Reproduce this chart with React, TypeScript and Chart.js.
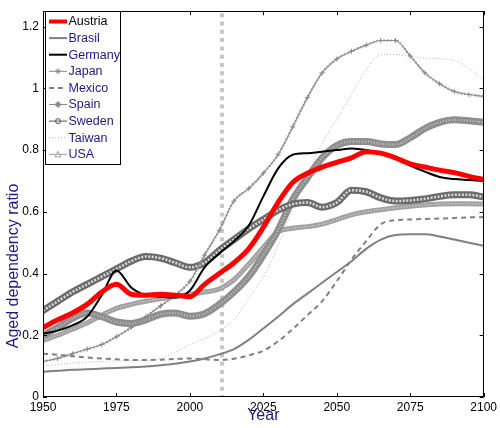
import { useEffect, useRef } from "react";
import { Chart, registerables } from "chart.js";

Chart.register(...registerables);

const years = [1950, 1955, 1960, 1965, 1970, 1975, 1980, 1985, 1990, 1995, 2000, 2005, 2010, 2015, 2020, 2025, 2030, 2035, 2040, 2045, 2050, 2055, 2060, 2065, 2070, 2075, 2080, 2085, 2090, 2095, 2100];

const austria = [0.225, 0.25, 0.272, 0.3, 0.34, 0.365, 0.333, 0.33, 0.333, 0.33, 0.325, 0.365, 0.4, 0.435, 0.48, 0.55, 0.63, 0.695, 0.725, 0.745, 0.76, 0.775, 0.795, 0.79, 0.775, 0.755, 0.745, 0.735, 0.727, 0.715, 0.705];
const brasil = [0.082, 0.085, 0.088, 0.09, 0.092, 0.094, 0.096, 0.099, 0.103, 0.108, 0.115, 0.125, 0.138, 0.155, 0.185, 0.222, 0.26, 0.3, 0.335, 0.37, 0.405, 0.44, 0.48, 0.51, 0.525, 0.527, 0.527, 0.52, 0.51, 0.5, 0.49];
const germany = [0.205, 0.215, 0.232, 0.26, 0.33, 0.41, 0.355, 0.33, 0.325, 0.322, 0.345, 0.42, 0.465, 0.505, 0.555, 0.65, 0.74, 0.785, 0.79, 0.795, 0.8, 0.805, 0.8, 0.788, 0.772, 0.75, 0.73, 0.713, 0.706, 0.703, 0.7];
const japan = [0.115, 0.125, 0.14, 0.155, 0.17, 0.195, 0.225, 0.26, 0.295, 0.33, 0.375, 0.46, 0.54, 0.635, 0.675, 0.725, 0.785, 0.875, 0.97, 1.05, 1.095, 1.12, 1.14, 1.155, 1.155, 1.105, 1.05, 1.015, 0.99, 0.98, 0.974];
const mexico = [0.14, 0.137, 0.132, 0.128, 0.125, 0.122, 0.12, 0.12, 0.121, 0.123, 0.125, 0.122, 0.12, 0.124, 0.135, 0.15, 0.18, 0.22, 0.265, 0.31, 0.375, 0.445, 0.505, 0.56, 0.573, 0.575, 0.577, 0.578, 0.58, 0.582, 0.583];
const spain = [0.2, 0.225, 0.255, 0.272, 0.26, 0.243, 0.238, 0.25, 0.268, 0.272, 0.262, 0.27, 0.3, 0.34, 0.39, 0.46, 0.54, 0.64, 0.71, 0.775, 0.815, 0.828, 0.828, 0.82, 0.818, 0.84, 0.87, 0.89, 0.898, 0.895, 0.89];
const sweden = [0.28, 0.31, 0.34, 0.365, 0.39, 0.415, 0.44, 0.455, 0.45, 0.435, 0.42, 0.435, 0.475, 0.51, 0.545, 0.575, 0.605, 0.625, 0.63, 0.615, 0.63, 0.67, 0.665, 0.645, 0.635, 0.637, 0.642, 0.65, 0.655, 0.655, 0.648];
const taiwan = [0.1, 0.105, 0.11, 0.113, 0.115, 0.117, 0.118, 0.118, 0.125, 0.145, 0.17, 0.19, 0.215, 0.25, 0.32, 0.39, 0.49, 0.61, 0.72, 0.82, 0.9, 0.98, 1.06, 1.11, 1.11, 1.103, 1.098, 1.096, 1.09, 1.065, 1.027];
const usa = [0.183, 0.2, 0.22, 0.24, 0.265, 0.287, 0.3, 0.31, 0.318, 0.326, 0.333, 0.34, 0.35, 0.38, 0.43, 0.485, 0.535, 0.547, 0.552, 0.56, 0.575, 0.59, 0.6, 0.607, 0.613, 0.618, 0.622, 0.625, 0.626, 0.626, 0.625];

const countries = ["Austria", "Brasil", "Germany", "Japan", "Mexico", "Spain", "Sweden", "Taiwan", "USA"];
const xTicks = [1950, 1975, 2000, 2025, 2050, 2075, 2100];
const yTicks = [0, 0.2, 0.4, 0.6, 0.8, 1, 1.2];
const currentYear = 2011;
const xTitle = "Year";
const yTitle = "Aged dependency ratio";

const FONT = "'Liberation Sans', Arial, Helvetica, sans-serif";
const NAVY = "#1b1b7e";

type Sty = { color: string; width: number; dash?: number[]; marker?: string; textColor: string };
const styles: Record<string, Sty> = {
  Austria: { color: "#ff0000", width: 5, textColor: "#000" },
  Brasil: { color: "#808080", width: 2, textColor: NAVY },
  Germany: { color: "#000000", width: 2, textColor: NAVY },
  Japan: { color: "#8a8a8a", width: 1.2, marker: "cross", textColor: NAVY },
  Mexico: { color: "#808080", width: 2, dash: [5, 4], textColor: NAVY },
  Spain: { color: "#8c8c8c", width: 1.2, marker: "diamond", textColor: NAVY },
  Sweden: { color: "#555555", width: 1.2, marker: "circle", textColor: NAVY },
  Taiwan: { color: "#b4b4b4", width: 1, dash: [1, 2], textColor: NAVY },
  USA: { color: "#a0a0a0", width: 1.2, marker: "triangle", textColor: NAVY },
};

function drawMarker(ctx: CanvasRenderingContext2D, kind: string, x: number, y: number, color: string) {
  ctx.save();
  ctx.strokeStyle = color;
  ctx.lineWidth = 1;
  ctx.setLineDash([]);
  ctx.beginPath();
  if (kind === "cross") {
    ctx.moveTo(x - 3, y); ctx.lineTo(x + 3, y);
    ctx.moveTo(x, y - 3); ctx.lineTo(x, y + 3);
    ctx.moveTo(x - 2, y - 2); ctx.lineTo(x + 2, y + 2);
    ctx.moveTo(x - 2, y + 2); ctx.lineTo(x + 2, y - 2);
  } else if (kind === "diamond") {
    ctx.moveTo(x, y - 3); ctx.lineTo(x + 3, y); ctx.lineTo(x, y + 3); ctx.lineTo(x - 3, y); ctx.closePath();
    ctx.fillStyle = color; ctx.fill();
  } else if (kind === "circle") {
    ctx.arc(x, y, 2.5, 0, Math.PI * 2);
  } else if (kind === "triangle") {
    ctx.moveTo(x, y - 3); ctx.lineTo(x + 3, y + 2.5); ctx.lineTo(x - 3, y + 2.5); ctx.closePath();
  }
  ctx.stroke();
  ctx.restore();
}

const decorPlugin = {
  id: "decor",
  beforeDatasetsDraw(chart: any) {
    const { ctx, chartArea: a, scales } = chart;
    const x = Math.round(scales.x.getPixelForValue(currentYear));
    ctx.save();
    ctx.strokeStyle = "#c8c8c8";
    ctx.lineWidth = 4;
    ctx.setLineDash([4, 4.3]);
    ctx.beginPath();
    ctx.moveTo(x, a.top + 2);
    ctx.lineTo(x, a.bottom);
    ctx.stroke();
    ctx.restore();
  },
  afterDraw(chart: any) {
    const { ctx, chartArea: a, scales } = chart;
    ctx.save();
    ctx.strokeStyle = "#000";
    ctx.lineWidth = 1;
    ctx.setLineDash([]);
    ctx.strokeRect(Math.round(a.left) + 0.5, Math.round(a.top) + 0.5, Math.round(a.right - a.left) - 1, Math.round(a.bottom - a.top) - 1);
    ctx.beginPath();
    const tl = 4;
    for (const t of xTicks) {
      const px = Math.round(scales.x.getPixelForValue(t)) + 0.5;
      ctx.moveTo(px, a.bottom); ctx.lineTo(px, a.bottom - tl);
      ctx.moveTo(px, a.top); ctx.lineTo(px, a.top + tl);
    }
    for (const t of yTicks) {
      const py = Math.round(scales.y.getPixelForValue(t)) + 0.5;
      ctx.moveTo(a.left, py); ctx.lineTo(a.left + tl, py);
      ctx.moveTo(a.right, py); ctx.lineTo(a.right - tl, py);
    }
    ctx.stroke();
    ctx.fillStyle = NAVY;
    ctx.font = `16px ${FONT}`;
    ctx.textAlign = "center";
    ctx.textBaseline = "middle";
    ctx.fillText(xTitle, (a.left + a.right) / 2, 416);
    ctx.save();
    ctx.translate(14, 266);
    ctx.rotate(-Math.PI / 2);
    ctx.fillText(yTitle, 0, 0);
    ctx.restore();
    const bx = 45, by = 11, bw = 75, bh = 153;
    ctx.fillStyle = "#fff";
    ctx.fillRect(bx, by, bw, bh);
    ctx.strokeStyle = "#000";
    ctx.lineWidth = 1;
    ctx.strokeRect(bx + 0.5, by + 0.5, bw, bh);
    ctx.font = `12.5px ${FONT}`;
    ctx.textAlign = "left";
    ctx.textBaseline = "middle";
    countries.forEach((name, i) => {
      const s = styles[name];
      const y = 21.5 + i * 16.6;
      ctx.save();
      ctx.strokeStyle = s.color;
      ctx.lineWidth = name === "Austria" ? 4 : s.width === 2 ? 2 : 1;
      ctx.setLineDash(s.dash || []);
      ctx.beginPath();
      ctx.moveTo(49, y);
      ctx.lineTo(67, y);
      ctx.stroke();
      ctx.restore();
      if (s.marker) drawMarker(ctx, s.marker, 58, y, s.color);
      ctx.fillStyle = s.textColor;
      ctx.fillText(name, 68.5, y + 0.5);
    });
    ctx.restore();
  },
};

function mk(label: string, data: number[], color: string, width: number, order: number, extra: any = {}) {
  return {
    label,
    data: years.map((yr, i) => ({ x: yr, y: data[i] })),
    borderColor: color,
    backgroundColor: color,
    borderWidth: width,
    pointRadius: 0,
    fill: false,
    cubicInterpolationMode: "monotone",
    borderCapStyle: "round",
    borderJoinStyle: "round",
    order,
    ...extra,
  };
}

export default function App() {
  const ref = useRef<HTMLCanvasElement>(null);
  useEffect(() => {
    if (!ref.current) return;
    const chart = new Chart(ref.current, {
      type: "line",
      data: {
        datasets: [
          mk("Austria", austria, "#ff0000", 5, 0),
          mk("Germany", germany, "#000000", 2, 1),
          mk("Brasil", brasil, "#808080", 2, 2),
          mk("Mexico", mexico, "#808080", 2, 3, { borderDash: [5, 4], borderCapStyle: "butt" }),
          mk("Japan_t", japan, "#a8a8a8", 3, 5, { borderDash: [1, 2.5], borderCapStyle: "butt" }),
          mk("Japan", japan, "#8a8a8a", 1.2, 4, { pointRadius: 2.5, pointStyle: "cross", pointBorderWidth: 1, pointBorderColor: "#8a8a8a" }),
          mk("Sweden_t", sweden, "#d8d8d8", 2.5, 6, { borderDash: [2, 1.5], borderCapStyle: "butt" }),
          mk("Sweden", sweden, "#6a6a6a", 7, 7),
          mk("Spain_t", spain, "#c4c4c4", 2, 8, { borderDash: [1, 2], borderCapStyle: "butt" }),
          mk("Spain", spain, "#8e8e8e", 7, 9),
          mk("USA_t", usa, "#d2d2d2", 1.5, 10, { borderDash: [1, 2], borderCapStyle: "butt" }),
          mk("USA", usa, "#a2a2a2", 5, 11),
          mk("Taiwan", taiwan, "#b4b4b4", 1, 12, { borderDash: [1, 2], borderCapStyle: "butt" }),
        ],
      },
      options: {
        responsive: false,
        animation: false,
        layout: { padding: { top: 8, right: 14, left: 0, bottom: 0 } },
        plugins: { legend: { display: false }, tooltip: { enabled: false } },
        scales: {
          x: {
            type: "linear",
            min: 1950,
            max: 2100,
            grid: { display: false, drawTicks: false },
            border: { display: false },
            afterBuildTicks: (s: any) => { s.ticks = xTicks.map((v) => ({ value: v })); },
            afterFit: (s: any) => { s.height = 31; },
            ticks: { color: "#000", font: { size: 12, family: FONT }, padding: 3, maxRotation: 0, callback: (v: any) => String(v) },
          },
          y: {
            type: "linear",
            min: 0,
            max: 1.25,
            grid: { display: false, drawTicks: false },
            border: { display: false },
            afterBuildTicks: (s: any) => { s.ticks = yTicks.map((v) => ({ value: v })); },
            afterFit: (s: any) => { s.width = 43; },
            ticks: { color: "#000", font: { size: 12, family: FONT }, padding: 4, callback: (v: any) => String(v) },
          },
        },
      },
      plugins: [decorPlugin],
    } as any);
    return () => chart.destroy();
  }, []);
  return (
    <div style={{ position: "fixed", left: 0, top: 0, width: 500, height: 428, background: "#fff" }}>
      <canvas ref={ref} width={500} height={428} />
    </div>
  );
}
